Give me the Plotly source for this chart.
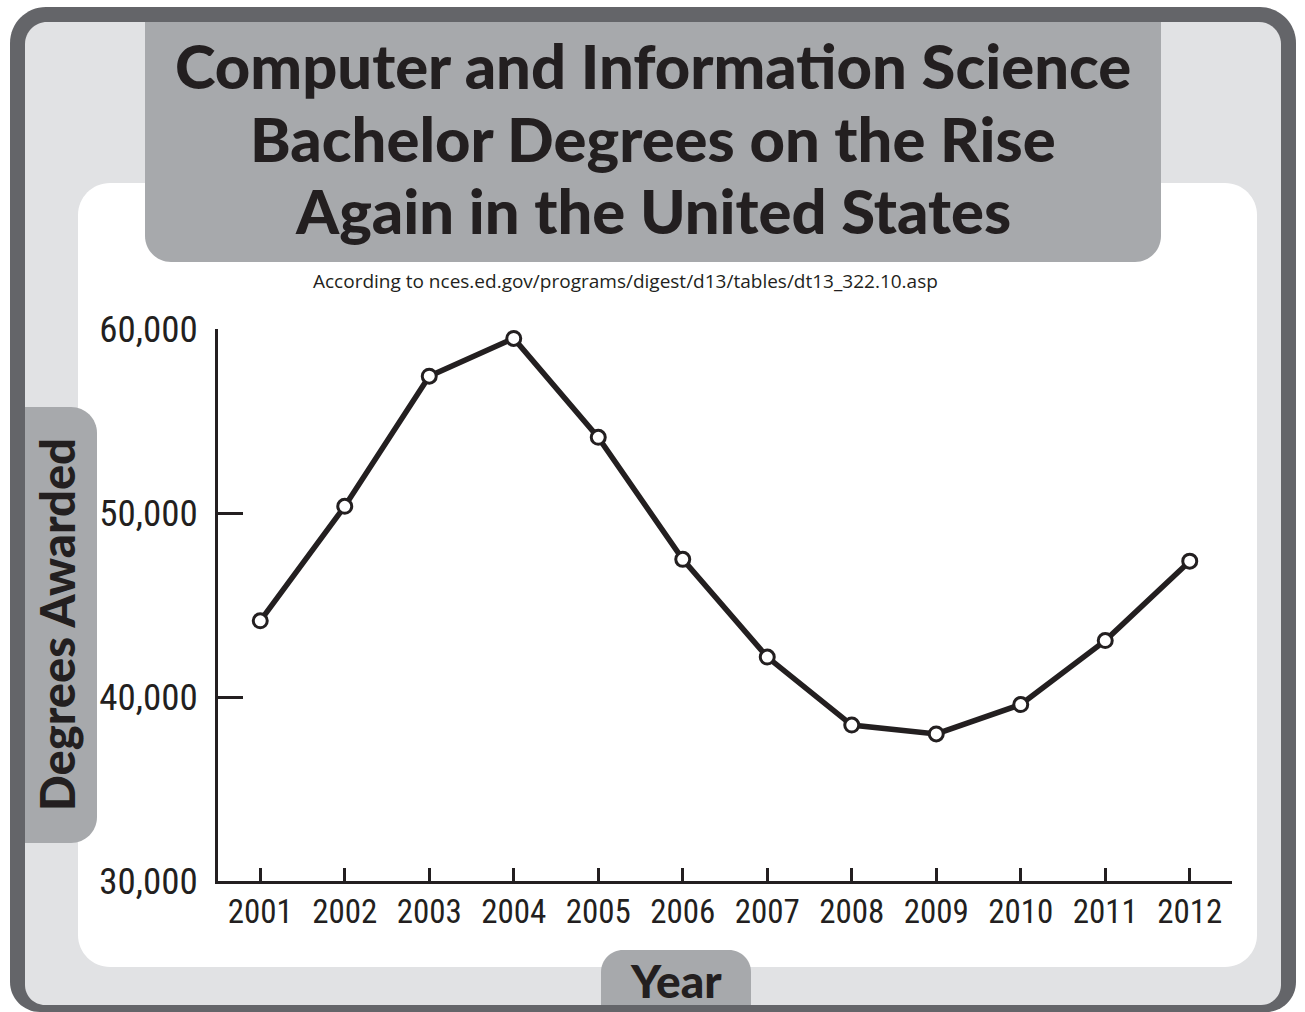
import plotly.graph_objects as go

# ---------------- data ----------------
years = [2001, 2002, 2003, 2004, 2005, 2006, 2007, 2008, 2009, 2010, 2011, 2012]
degrees = [44142, 50365, 57433, 59488, 54111, 47480, 42170, 38476, 37994, 39589, 43066, 47384]
y_tick_vals = [30000, 40000, 50000, 60000]
y_tick_text = ["30,000", "40,000", "50,000", "60,000"]
x_tick_text = [str(y) for y in years]

title_lines = ["Computer and Information Science",
               "Bachelor Degrees on the Rise",
               "Again in the United States"]
subtitle = "According to nces.ed.gov/programs/digest/d13/tables/dt13_322.10.asp"
y_title = "Degrees Awarded"
x_title = "Year"

# ---------------- geometry (pixels) ----------------
W, H = 1305, 1012
L, R, T, B = 218, 1232, 329, 881

INK = "#231f20"
DARK = "#646569"
LIGHT = "#e1e2e4"
MID = "#a7a9ac"


def px(x):
    return (x - L) / (R - L)


def py(y):
    return (B - y) / (B - T)


def rrect(x0, y0, x1, y1, tl=0, tr=0, br=0, bl=0):
    k = 0.5523

    def P(x, y):
        return f"{px(x):.6f},{py(y):.6f}"

    s = f"M {P(x0 + tl, y0)} L {P(x1 - tr, y0)} "
    if tr:
        s += f"C {P(x1 - tr + k * tr, y0)} {P(x1, y0 + tr - k * tr)} {P(x1, y0 + tr)} "
    s += f"L {P(x1, y1 - br)} "
    if br:
        s += f"C {P(x1, y1 - br + k * br)} {P(x1 - br + k * br, y1)} {P(x1 - br, y1)} "
    s += f"L {P(x0 + bl, y1)} "
    if bl:
        s += f"C {P(x0 + bl - k * bl, y1)} {P(x0, y1 - bl + k * bl)} {P(x0, y1 - bl)} "
    s += f"L {P(x0, y0 + tl)} "
    if tl:
        s += f"C {P(x0, y0 + tl - k * tl)} {P(x0 + tl - k * tl, y0)} {P(x0 + tl, y0)} "
    s += "Z"
    return s


def shape(path, color):
    return dict(type="path", path=path, xref="paper", yref="paper",
                fillcolor=color, line=dict(width=0), layer="below")


shapes = [
    shape(rrect(10, 7, 1296, 1012, 36, 36, 30, 30), DARK),
    shape(rrect(25, 22, 1281, 1005, 22, 22, 20, 20), LIGHT),
    shape(rrect(78, 183, 1257, 967, 32, 32, 32, 32), "white"),
    shape(rrect(145, 22, 1161, 262, 0, 0, 26, 26), MID),
    shape(rrect(25, 407, 97, 843, 0, 26, 26, 0), MID),
    shape(rrect(601, 950, 751, 1005, 22, 22, 0, 0), MID),
]

fig = go.Figure()
fig.add_trace(go.Scatter(
    x=years, y=degrees, mode="lines+markers",
    line=dict(color=INK, width=5.5),
    marker=dict(size=14, color="white", line=dict(color=INK, width=3)),
    showlegend=False, hoverinfo="skip",
))

TICK_FONT = dict(family="Liberation Sans Narrow, Roboto Condensed, DejaVu Sans Condensed, sans-serif",
                 color=INK, weight="normal")

fig.update_xaxes(
    range=[2000.5, 2012.5], tickvals=years, ticktext=x_tick_text,
    ticks="inside", ticklen=13, tickwidth=2.5, tickcolor=INK,
    showline=True, linecolor=INK, linewidth=2.5,
    showgrid=False, zeroline=False,
    tickfont=dict(size=33, **TICK_FONT), ticklabelstandoff=0,
    fixedrange=True,
)
fig.update_yaxes(
    range=[30000, 60000], tickvals=y_tick_vals, ticktext=y_tick_text,
    ticks="inside", ticklen=25, tickwidth=2.5, tickcolor=INK,
    showline=True, linecolor=INK, linewidth=2.5,
    showgrid=False, zeroline=False,
    tickfont=dict(size=37, **TICK_FONT), ticklabelstandoff=10,
    fixedrange=True,
)

BOLD = dict(family="Lato, Open Sans, sans-serif", color=INK, weight=900)

annotations = []
for line, yc in zip(title_lines, [65, 138, 210]):
    annotations.append(dict(
        text=line, x=px(653), y=py(yc), xref="paper", yref="paper",
        xanchor="center", yanchor="middle", showarrow=False,
        font=dict(size=61.5, **BOLD),
    ))
annotations.append(dict(
    text=subtitle, x=px(625), y=py(281), xref="paper", yref="paper",
    xanchor="center", yanchor="middle", showarrow=False,
    font=dict(family="Open Sans, Lato, sans-serif", size=19, color=INK),
))
annotations.append(dict(
    text=y_title, x=px(57), y=py(625), xref="paper", yref="paper",
    xanchor="center", yanchor="middle", showarrow=False, textangle=-90,
    font=dict(size=47, **BOLD),
))
annotations.append(dict(
    text=x_title, x=px(676), y=py(980), xref="paper", yref="paper",
    xanchor="center", yanchor="middle", showarrow=False,
    font=dict(size=46, **BOLD),
))

fig.update_layout(
    width=W, height=H,
    margin=dict(l=L, r=W - R, t=T, b=H - B, pad=0),
    paper_bgcolor="white", plot_bgcolor="rgba(0,0,0,0)",
    shapes=shapes, annotations=annotations,
    showlegend=False,
)

fig.write_html("out.html", config={"displayModeBar": False})
